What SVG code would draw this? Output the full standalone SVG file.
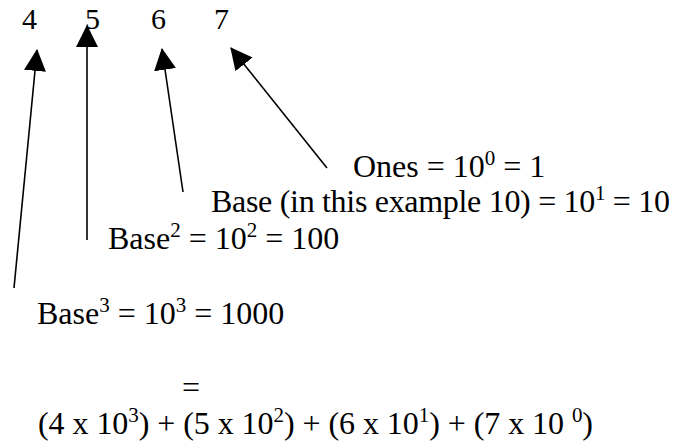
<svg xmlns="http://www.w3.org/2000/svg" width="683" height="442" viewBox="0 0 683 442">
<style>
text{font-family:"Liberation Serif","Times New Roman",serif;font-size:32px;fill:#000}
.d{font-size:30px}
.s{font-size:21px}
.c{stroke:#000;stroke-width:1.6;fill:none}
</style>
<defs>
<marker id="ah" markerUnits="userSpaceOnUse" markerWidth="22" markerHeight="22" viewBox="0 0 20 20" refX="19" refY="10" orient="auto">
<path d="M0,0 L20,10 L0,20 z" fill="#000"/>
</marker>
</defs>
<rect width="683" height="442" fill="#fff"/>
<g id="digits">
<text class="d" x="22" y="29">4</text>
<text class="d" x="85" y="29">5</text>
<text class="d" x="151" y="29">6</text>
<text class="d" x="214" y="29">7</text>
</g>
<g id="connectors">
<line class="c" x1="14" y1="288" x2="37" y2="50" marker-end="url(#ah)"/>
<line class="c" x1="87" y1="240" x2="87" y2="26" marker-end="url(#ah)"/>
<line class="c" x1="183" y1="192" x2="162" y2="49" marker-end="url(#ah)"/>
<line class="c" x1="327" y1="168" x2="231" y2="48" marker-end="url(#ah)"/>
</g>
<g id="ones"><text x="353" y="177">Ones = 10<tspan class="s" dy="-12">0</tspan><tspan dy="12"> = 1</tspan></text></g>
<g id="base1"><text x="211" y="212" textLength="459">Base (in this example 10) = 10<tspan class="s" dy="-12">1</tspan><tspan dy="12"> = 10</tspan></text></g>
<g id="base2"><text x="108" y="249">Base<tspan class="s" dy="-12">2</tspan><tspan dy="12"> = 10</tspan><tspan class="s" dy="-12">2</tspan><tspan dy="12"> = 100</tspan></text></g>
<g id="base3"><text x="37" y="324">Base<tspan class="s" dy="-12">3</tspan><tspan dy="12"> = 10</tspan><tspan class="s" dy="-12">3</tspan><tspan dy="12"> = 1000</tspan></text></g>
<g id="equals"><text x="182" y="398">=</text></g>
<g id="expansion"><text x="38" y="434" textLength="555">(4 x 10<tspan class="s" dy="-12">3</tspan><tspan dy="12">) + (5 x 10</tspan><tspan class="s" dy="-12">2</tspan><tspan dy="12">) + (6 x 10</tspan><tspan class="s" dy="-12">1</tspan><tspan dy="12">) + (7 x 10 </tspan><tspan class="s" dy="-12">0</tspan><tspan dy="12">)</tspan></text></g>
</svg>
